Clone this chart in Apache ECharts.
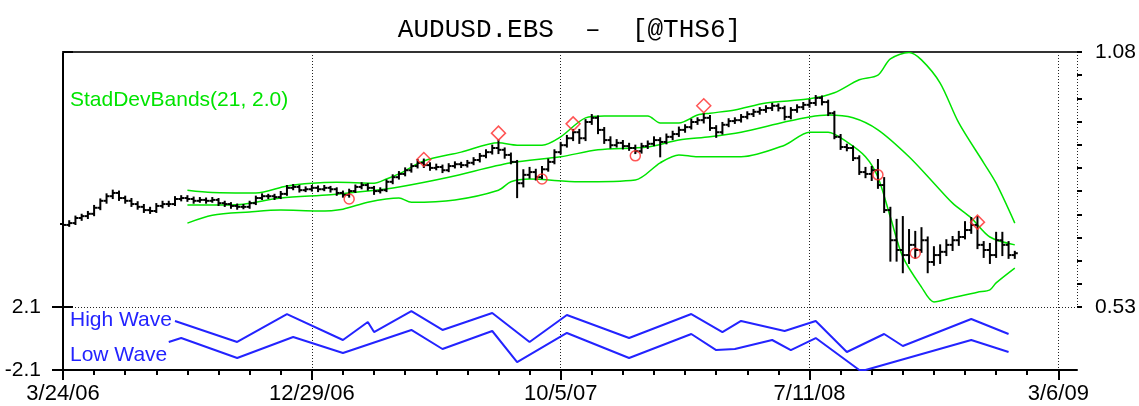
<!DOCTYPE html>
<html>
<head>
<meta charset="utf-8">
<script src="https://cdn.jsdelivr.net/npm/echarts@6.0.0/dist/echarts.min.js"></script>
<style>
html, body { margin: 0; padding: 0; background: #fff; }
#chart { width: 1139px; height: 406px; }
</style>
</head>
<body>
<div id="chart"></div>
<script>
// x = week number, week 0 is 3/24/06
const dateTicks = [0, 40, 80, 120, 160];
const dateLabels = ['3/24/06', '12/29/06', '10/5/07', '7/11/08', '3/6/09'];
const minorTicks = [0,5,10,15,20,25,30,35,40,45,50,55,60,65,70,75,80,85,90,95,100,105,110,115,120,125,130,135,140,145,150,155,160];

// weekly bars: [open, high, low, close]
const weeklyBars = [
  [0.709,0.713,0.703,0.707],[0.707,0.715,0.705,0.711],[0.711,0.725,0.709,0.722],[0.722,0.729,0.718,0.726],
  [0.726,0.735,0.722,0.731],[0.731,0.748,0.728,0.744],[0.744,0.762,0.741,0.759],[0.759,0.773,0.755,0.769],
  [0.769,0.781,0.765,0.776],[0.776,0.779,0.761,0.765],[0.765,0.768,0.755,0.759],[0.759,0.763,0.748,0.752],
  [0.752,0.756,0.742,0.746],[0.746,0.750,0.735,0.739],[0.739,0.744,0.733,0.737],[0.737,0.752,0.735,0.748],
  [0.748,0.757,0.745,0.752],[0.752,0.757,0.748,0.752],[0.752,0.767,0.750,0.763],[0.763,0.769,0.760,0.765],
  [0.765,0.769,0.759,0.763],[0.763,0.766,0.755,0.759],[0.759,0.765,0.757,0.761],[0.761,0.764,0.755,0.759],
  [0.759,0.765,0.757,0.761],[0.761,0.763,0.750,0.754],[0.754,0.757,0.748,0.752],[0.752,0.754,0.744,0.748],
  [0.748,0.751,0.742,0.746],[0.746,0.750,0.743,0.746],[0.746,0.757,0.744,0.754],[0.754,0.768,0.752,0.765],
  [0.765,0.773,0.763,0.769],[0.769,0.772,0.765,0.769],[0.769,0.772,0.763,0.767],[0.767,0.778,0.765,0.774],
  [0.774,0.791,0.772,0.787],[0.787,0.793,0.784,0.789],[0.789,0.791,0.779,0.782],[0.782,0.788,0.780,0.784],
  [0.784,0.791,0.781,0.787],[0.787,0.790,0.780,0.784],[0.784,0.791,0.782,0.787],[0.787,0.789,0.779,0.784],
  [0.784,0.786,0.772,0.776],[0.776,0.779,0.768,0.772],[0.772,0.783,0.768,0.780],[0.780,0.792,0.778,0.789],
  [0.789,0.797,0.786,0.793],[0.793,0.795,0.783,0.787],[0.787,0.789,0.774,0.780],[0.780,0.786,0.777,0.782],
  [0.782,0.803,0.780,0.800],[0.800,0.814,0.797,0.810],[0.810,0.821,0.807,0.817],[0.817,0.829,0.814,0.825],
  [0.825,0.838,0.822,0.834],[0.834,0.847,0.831,0.841],[0.841,0.848,0.832,0.836],[0.836,0.840,0.826,0.830],
  [0.830,0.837,0.827,0.832],[0.832,0.835,0.821,0.825],[0.825,0.838,0.823,0.834],[0.834,0.842,0.831,0.838],
  [0.838,0.841,0.832,0.836],[0.836,0.845,0.833,0.841],[0.841,0.851,0.838,0.847],[0.847,0.860,0.844,0.856],
  [0.856,0.868,0.853,0.864],[0.864,0.878,0.861,0.873],[0.873,0.889,0.862,0.869],[0.869,0.872,0.852,0.858],
  [0.858,0.861,0.840,0.843],[0.843,0.845,0.767,0.797],[0.797,0.825,0.790,0.815],[0.815,0.830,0.809,0.821],
  [0.821,0.826,0.805,0.810],[0.810,0.832,0.808,0.827],[0.827,0.848,0.824,0.843],[0.843,0.868,0.840,0.864],
  [0.864,0.884,0.861,0.879],[0.879,0.899,0.876,0.894],[0.894,0.912,0.890,0.907],[0.907,0.912,0.884,0.894],
  [0.894,0.933,0.890,0.929],[0.929,0.944,0.925,0.938],[0.938,0.941,0.905,0.912],[0.912,0.916,0.884,0.890],
  [0.890,0.896,0.874,0.879],[0.879,0.890,0.876,0.884],[0.884,0.888,0.872,0.877],[0.877,0.882,0.869,0.873],
  [0.873,0.878,0.862,0.866],[0.866,0.882,0.863,0.877],[0.877,0.887,0.873,0.882],[0.882,0.896,0.879,0.890],
  [0.890,0.894,0.855,0.886],[0.886,0.902,0.883,0.897],[0.897,0.908,0.892,0.903],[0.903,0.917,0.899,0.912],
  [0.912,0.922,0.908,0.918],[0.918,0.934,0.915,0.929],[0.929,0.937,0.925,0.933],[0.933,0.946,0.928,0.938],
  [0.938,0.942,0.912,0.916],[0.916,0.920,0.897,0.907],[0.907,0.927,0.904,0.923],[0.923,0.935,0.920,0.931],
  [0.931,0.937,0.927,0.933],[0.933,0.944,0.930,0.940],[0.940,0.950,0.937,0.946],[0.946,0.955,0.942,0.951],
  [0.951,0.959,0.947,0.955],[0.955,0.963,0.951,0.959],[0.959,0.968,0.955,0.964],[0.964,0.967,0.954,0.959],
  [0.959,0.962,0.935,0.940],[0.940,0.959,0.937,0.955],[0.955,0.965,0.951,0.961],[0.961,0.970,0.957,0.966],
  [0.966,0.976,0.962,0.970],[0.970,0.985,0.966,0.981],[0.981,0.984,0.967,0.972],[0.972,0.975,0.944,0.948],
  [0.948,0.951,0.894,0.897],[0.897,0.901,0.871,0.875],[0.875,0.880,0.868,0.873],[0.873,0.876,0.847,0.851],
  [0.851,0.855,0.817,0.821],[0.821,0.830,0.810,0.817],[0.817,0.832,0.804,0.825],[0.825,0.847,0.787,0.793],
  [0.793,0.808,0.735,0.739],[0.739,0.744,0.630,0.674],[0.674,0.718,0.630,0.653],[0.653,0.724,0.605,0.642],
  [0.642,0.696,0.625,0.664],[0.664,0.692,0.636,0.653],[0.653,0.700,0.649,0.674],[0.674,0.680,0.605,0.627],
  [0.627,0.659,0.621,0.642],[0.642,0.663,0.625,0.649],[0.649,0.674,0.642,0.664],[0.664,0.681,0.653,0.674],
  [0.674,0.692,0.664,0.681],[0.681,0.713,0.678,0.696],[0.696,0.722,0.690,0.707],[0.707,0.724,0.657,0.664],
  [0.664,0.670,0.638,0.653],[0.653,0.666,0.625,0.642],[0.642,0.690,0.638,0.674],[0.674,0.690,0.642,0.664],
  [0.664,0.670,0.636,0.642],[0.642,0.649,0.636,0.646]
];

// StadDevBands(21, 2.0): [week, value]
const upperBand = [[20,0.782],[24,0.777],[31,0.776],[36,0.791],[40,0.797],[44,0.799],[50,0.797],[52,0.806],
  [54,0.817],[58,0.845],[64,0.864],[70,0.884],[73,0.879],[77,0.879],[80,0.897],[84,0.938],[87,0.942],[94,0.942],
  [96,0.927],[99,0.927],[102,0.944],[104,0.948],[108,0.955],[113,0.970],[120,0.979],[124,0.992],[128,1.020],
  [131,1.030],[133,1.065],[136,1.079],[138,1.063],[141,1.013],[144,0.927],[148,0.841],[150,0.797],[153,0.711]];
const middleBand = [[20,0.750],[27,0.750],[35,0.765],[43,0.772],[49,0.780],[54,0.789],[62,0.810],[72,0.841],
  [80,0.854],[86,0.869],[94,0.875],[99,0.890],[104,0.897],[109,0.907],[116,0.929],[120,0.940],[123,0.944],
  [127,0.938],[131,0.912],[136,0.854],[140,0.797],[143,0.754],[146,0.722],[149,0.681],[153,0.664]];
const lowerBand = [[20,0.711],[24,0.728],[30,0.735],[35,0.739],[41,0.737],[45,0.741],[49,0.756],[54,0.765],
  [56,0.756],[63,0.761],[70,0.782],[72,0.800],[75,0.806],[83,0.800],[92,0.804],[96,0.841],[99,0.858],[102,0.854],
  [109,0.854],[116,0.879],[120,0.907],[123,0.907],[126,0.886],[129,0.854],[131,0.810],[133,0.724],[135,0.638],
  [138,0.573],[140,0.541],[143,0.550],[147,0.562],[149,0.567],[150,0.582],[153,0.614]];

// pivot markers
const highPivots = [[58,0.848],[70,0.905],[82,0.925],[103,0.964],[147,0.713]];
const lowPivots = [[46,0.763],[77,0.806],[92,0.856],[131,0.815],[137,0.646]];

// lower panel
const highWave = [[18,1.17],[28,-0.23],[36,1.63],[45,-0.10],[49,1.10],[50,0.43],[56,1.83],[61,0.57],[69,1.70],
  [75,-0.23],[81,1.57],[91,0.03],[101,1.63],[106,0.43],[109,1.17],[116,0.50],[121,1.17],[126,-0.90],[132,0.30],
  [135,-0.50],[146,1.30],[152,0.30]];
const lowWave = [[17,-0.23],[19,0.03],[28,-1.30],[37,0.10],[45,-0.97],[56,0.57],[61,-0.70],[69,0.50],[73,-1.57],
  [81,0.37],[91,-1.30],[101,0.30],[105,-0.77],[108,-0.70],[114,-0.10],[117,-0.77],[121,0.03],[128,-2.10],
  [129,-2.10],[146,-0.10],[152,-0.90]];

const GREEN = '#00e400';
const BLUE = '#2323ff';
const RED = '#ff2a2a';
const FONT = '"Liberation Sans", Arial, sans-serif';

const chart = echarts.init(document.getElementById('chart'));

function renderBar(params, api) {
  const i = api.value(0);
  const o = api.coord([i, api.value(1)]);
  const h = api.coord([i, api.value(2)]);
  const l = api.coord([i, api.value(3)]);
  const c = api.coord([i, api.value(4)]);
  const st = { stroke: '#000', lineWidth: 2 };
  return {
    type: 'group',
    children: [
      { type: 'line', shape: { x1: h[0], y1: h[1] - 1, x2: l[0], y2: l[1] + 1 }, style: st },
      { type: 'line', shape: { x1: o[0] - 3, y1: o[1], x2: o[0], y2: o[1] }, style: st },
      { type: 'line', shape: { x1: c[0], y1: c[1], x2: c[0] + 3, y2: c[1] }, style: st }
    ]
  };
}

const dotted = { color: '#222', width: 1, type: [1, 2] };
const solid = { color: '#000', width: 2 };

chart.setOption({
  animation: false,
  backgroundColor: '#fff',
  title: {
    text: 'AUDUSD.EBS  –  [@THS6]',
    left: 'center',
    top: 12,
    textStyle: { fontFamily: '"Liberation Mono", "DejaVu Sans Mono", monospace', fontSize: 26, fontWeight: 'normal', color: '#000' }
  },
  grid: [
    { left: 63, right: 62, top: 52, height: 255, outerBoundsMode: 'none' },
    { left: 63, right: 62, top: 307, height: 63, outerBoundsMode: 'none' }
  ],
  xAxis: [
    { gridIndex: 0, type: 'value', min: 0, max: 163, interval: 40, position: 'top',
      axisLine: { show: true, lineStyle: { color: '#333', width: 2 } },
      axisTick: { show: false }, axisLabel: { show: false },
      splitLine: { show: true, lineStyle: dotted } },
    { gridIndex: 1, type: 'value', min: 0, max: 163, interval: 40, position: 'bottom',
      axisLine: { show: true, onZero: false, lineStyle: solid },
      axisTick: { show: true, length: 10, customValues: dateTicks, lineStyle: { color: '#000', width: 2 } },
      axisLabel: { show: true, margin: 13, fontFamily: FONT, fontSize: 22, color: '#000',
        customValues: dateTicks,
        formatter: v => { const k = dateTicks.indexOf(Math.round(v)); return (k >= 0 && Math.abs(v - dateTicks[k]) < 0.01) ? dateLabels[k] : ''; } },
      splitLine: { show: true, lineStyle: dotted } },
    { gridIndex: 1, type: 'value', min: 0, max: 163, interval: 5, position: 'bottom',
      axisLine: { show: false, onZero: false },
      axisTick: { show: true, length: 5, customValues: minorTicks, lineStyle: { color: '#000', width: 2 } },
      axisLabel: { show: false }, splitLine: { show: false } }
  ],
  yAxis: [
    { gridIndex: 0, type: 'value', position: 'right', min: 0.53, max: 1.08, interval: 0.55,
      axisLine: { show: true, lineStyle: solid },
      axisTick: { show: true, length: 10, lineStyle: { color: '#000', width: 2 } },
      axisLabel: { show: true, margin: 18, fontFamily: FONT, fontSize: 21, color: '#000', formatter: v => v.toFixed(2) },
      splitLine: { show: false } },
    { gridIndex: 0, type: 'value', position: 'right', min: 0.53, max: 1.08, interval: 0.05,
      axisLine: { show: false },
      axisTick: { show: true, length: 5, lineStyle: { color: '#000', width: 2 } },
      axisLabel: { show: false }, splitLine: { show: false } },
    { gridIndex: 0, type: 'value', position: 'left', min: 0.53, max: 1.08,
      axisLine: { show: true, lineStyle: solid },
      axisTick: { show: false }, axisLabel: { show: false }, splitLine: { show: false } },
    { gridIndex: 1, type: 'value', position: 'left', min: -2.1, max: 2.1, interval: 4.2,
      axisLine: { show: true, lineStyle: solid },
      axisTick: { show: true, length: 11, lineStyle: { color: '#000', width: 2 } },
      axisLabel: { show: true, margin: 22, fontFamily: FONT, fontSize: 21, color: '#000', formatter: v => v.toFixed(1) },
      splitLine: { show: true, lineStyle: dotted } },
    { gridIndex: 1, type: 'value', position: 'right', min: -2.1, max: 2.1,
      axisLine: { show: true, lineStyle: solid },
      axisTick: { show: false }, axisLabel: { show: false }, splitLine: { show: false } }
  ],
  series: [
    { name: 'Upper', type: 'line', xAxisIndex: 0, yAxisIndex: 0, data: upperBand, showSymbol: false, smooth: 0.3,
      lineStyle: { color: GREEN, width: 1.5 }, z: 2 },
    { name: 'Middle', type: 'line', xAxisIndex: 0, yAxisIndex: 0, data: middleBand, showSymbol: false, smooth: 0.3,
      lineStyle: { color: GREEN, width: 1.5 }, z: 2 },
    { name: 'Lower', type: 'line', xAxisIndex: 0, yAxisIndex: 0, data: lowerBand, showSymbol: false, smooth: 0.3,
      lineStyle: { color: GREEN, width: 1.5 }, z: 2 },
    { name: 'AUDUSD', type: 'custom', xAxisIndex: 0, yAxisIndex: 0, renderItem: renderBar,
      data: weeklyBars.map((b, i) => [i, b[0], b[1], b[2], b[3]]),
      encode: { x: 0, y: [1, 2, 3, 4] }, z: 3 },
    { name: 'Highs', type: 'scatter', xAxisIndex: 0, yAxisIndex: 0, data: highPivots, symbol: 'diamond',
      symbolSize: [14, 14], itemStyle: { color: 'rgba(255,255,255,0)', borderColor: RED, borderWidth: 1.5 }, z: 4 },
    { name: 'Lows', type: 'scatter', xAxisIndex: 0, yAxisIndex: 0, data: lowPivots, symbol: 'circle',
      symbolSize: 10, itemStyle: { color: 'rgba(255,255,255,0)', borderColor: RED, borderWidth: 1.5 }, z: 4 },
    { name: 'High Wave', type: 'line', xAxisIndex: 1, yAxisIndex: 3, data: highWave, showSymbol: false,
      lineStyle: { color: BLUE, width: 2 } },
    { name: 'Low Wave', type: 'line', xAxisIndex: 1, yAxisIndex: 3, data: lowWave, showSymbol: false,
      lineStyle: { color: BLUE, width: 2 } }
  ],
  graphic: [
    { type: 'text', left: 70, top: 90, style: { text: 'StadDevBands(21, 2.0)', fill: GREEN, font: '21px ' + FONT } },
    { type: 'text', left: 70, top: 310, style: { text: 'High Wave', fill: BLUE, font: '21px ' + FONT } },
    { type: 'text', left: 70, top: 345, style: { text: 'Low Wave', fill: BLUE, font: '21px ' + FONT } }
  ]
});
</script>
</body>
</html>
